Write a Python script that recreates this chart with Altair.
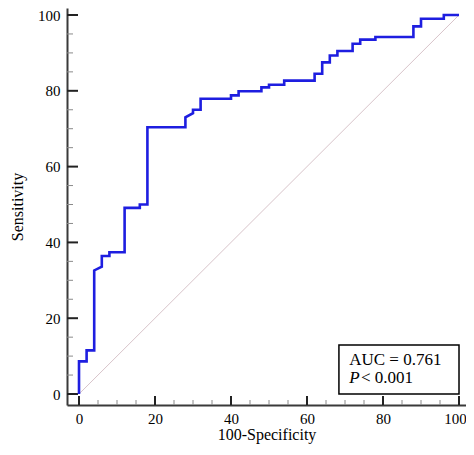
import altair as alt
import pandas as pd

# ROC curve vertices (100-Specificity, Sensitivity)
fpr = [0, 0, 2, 2, 4, 4, 6, 6, 8, 8, 12, 12, 16, 16, 18, 18, 28, 28, 30, 30, 32, 32,
       40, 40, 42, 42, 48, 48, 50, 50, 54, 54, 62, 62, 64, 64, 66, 66, 68, 68,
       72, 72, 74, 74, 78, 78, 88, 88, 90, 90, 96, 96, 100]
tpr = [0, 8.6, 8.6, 11.5, 11.5, 32.6, 33.6, 36.4, 36.4, 37.4, 37.4, 49.1, 49.1, 50.0,
       50.0, 70.4, 70.4, 73.0, 74.1, 75.0, 75.0, 77.9, 77.9, 78.8, 78.8, 79.9, 79.9,
       80.9, 80.9, 81.6, 81.6, 82.7, 82.7, 84.5, 84.5, 87.5, 87.5, 89.3, 89.3, 90.5,
       90.5, 92.4, 92.4, 93.5, 93.5, 94.2, 94.2, 97.0, 97.0, 99.0, 99.0, 100, 100]

diag_x = [0, 100]
diag_y = [0, 100]

major_ticks = [0, 20, 40, 60, 80, 100]
minor_ticks = [5, 10, 15, 25, 30, 35, 45, 50, 55, 65, 70, 75, 85, 90, 95]

box_x = [68.4, 100]
box_y = [0, 12.9]
auc_text = "AUC = 0.761"
p_italic = "P"
p_rest = "< 0.001"
text_x = [71.1, 74.2]
text_y = [7.7, 2.8]

W, H = 399, 397
FONT = "Liberation Serif"

xscale = alt.Scale(domain=[-3.16, 101.84], nice=False, zero=False)
yscale = alt.Scale(domain=[-2.9, 101.85], nice=False, zero=False)
xaxis = alt.Axis(values=major_ticks, ticks=False, grid=False, labelPadding=6,
                 labelOffset={"condition": {"test": "datum.value === 100", "value": -4},
                              "value": 0},
                 titlePadding=0, title="100-Specificity")
yaxis = alt.Axis(values=major_ticks, ticks=False, grid=False, labelPadding=7,
                 titlePadding=12, title="Sensitivity")

roc_df = pd.DataFrame({"fpr": fpr, "tpr": tpr, "i": range(len(fpr))})
diag_df = pd.DataFrame({"x": diag_x, "y": diag_y})
maj_df = pd.DataFrame({"v": major_ticks})
min_df = pd.DataFrame({"v": minor_ticks})

roc = alt.Chart(roc_df).mark_line(color="#1e1ee0", strokeWidth=2.6).encode(
    x=alt.X("fpr:Q", scale=xscale, axis=xaxis),
    y=alt.Y("tpr:Q", scale=yscale, axis=yaxis),
    order="i:Q",
)

diag = alt.Chart(diag_df).mark_line(color="#d8c4ca", strokeWidth=1).encode(
    x=alt.X("x:Q", scale=xscale, axis=xaxis),
    y=alt.Y("y:Q", scale=yscale, axis=yaxis),
)

xmaj = alt.Chart(maj_df).mark_rule(color="#222222", strokeWidth=2).encode(
    x=alt.X("v:Q", scale=xscale, axis=xaxis), y=alt.value(H), y2=alt.value(H - 9))
xmin = alt.Chart(min_df).mark_rule(color="#8a8a8a", strokeWidth=1).encode(
    x=alt.X("v:Q", scale=xscale, axis=xaxis), y=alt.value(H), y2=alt.value(H - 5))
ymaj = alt.Chart(maj_df).mark_rule(color="#222222", strokeWidth=2).encode(
    y=alt.Y("v:Q", scale=yscale, axis=yaxis), x=alt.value(0), x2=alt.value(11))
ymin = alt.Chart(min_df).mark_rule(color="#8a8a8a", strokeWidth=1).encode(
    y=alt.Y("v:Q", scale=yscale, axis=yaxis), x=alt.value(0), x2=alt.value(6))

box = alt.Chart().mark_rect(fill="white", stroke="black", strokeWidth=1.5).encode(
    x=alt.datum(box_x[0], scale=xscale, axis=xaxis), x2=alt.datum(box_x[1]),
    y=alt.datum(box_y[0], scale=yscale, axis=yaxis), y2=alt.datum(box_y[1]),
)

t1 = alt.Chart().mark_text(align="left", baseline="alphabetic", font=FONT,
                           fontSize=17, color="black", text=auc_text).encode(
    x=alt.datum(text_x[0], scale=xscale, axis=xaxis),
    y=alt.datum(text_y[0], scale=yscale, axis=yaxis))
t2 = alt.Chart().mark_text(align="left", baseline="alphabetic", font=FONT,
                           fontSize=17, fontStyle="italic", color="black",
                           text=p_italic).encode(
    x=alt.datum(text_x[0], scale=xscale, axis=xaxis),
    y=alt.datum(text_y[1], scale=yscale, axis=yaxis))
t3 = alt.Chart().mark_text(align="left", baseline="alphabetic", font=FONT,
                           fontSize=17, color="black", text=p_rest).encode(
    x=alt.datum(text_x[1], scale=xscale, axis=xaxis),
    y=alt.datum(text_y[1], scale=yscale, axis=yaxis))

chart = alt.layer(diag, xmin, ymin, xmaj, ymaj, roc, box, t1, t2, t3).properties(
    width=W, height=H,
    padding={"left": 59, "top": 0, "right": 0, "bottom": 41},
    autosize=alt.AutoSizeParams(type="none"),
    background="white",
).configure_view(stroke=None).configure_axis(
    domainColor="#3a3a3a", domainWidth=2,
    labelFont=FONT, labelFontSize=15, labelColor="black",
    titleFont=FONT, titleFontSize=16, titleFontWeight="normal", titleColor="black",
)

chart.save("out.html", embed_options={"renderer": "svg", "actions": False})
